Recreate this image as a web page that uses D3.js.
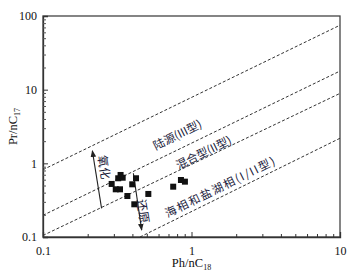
<!DOCTYPE html>
<html lang="zh">
<head>
<meta charset="UTF-8">
<title>Pr/nC17 - Ph/nC18</title>
<style>
body{margin:0;background:#fff;}
text{font-family:"Liberation Serif","Times New Roman",serif;}
.cjk{font-family:"Noto Sans CJK SC","Liberation Serif",serif;}
</style>
</head>
<body>
<script src="https://cdn.jsdelivr.net/npm/d3@7/dist/d3.min.js"></script>
<script>
// sample points (Ph/nC18, Pr/nC17)
var phC18=[0.290,0.309,0.330,0.321,0.333,0.344,0.370,0.399,0.423,0.412,0.512,0.753,0.849,0.903];
var prC17=[0.525,0.444,0.444,0.627,0.695,0.638,0.360,0.519,0.627,0.278,0.384,0.482,0.594,0.564];

// dashed boundary lines, end points [x0,y0,x1,y1]
var boundaries=[[0.1,0.82,10,75],[0.1,0.197,10,17.9],[0.1,0.105,10,8.9],[0.45,0.1,10,2.19]];

var zoneNames=["陆源(III型)","混合型(II型)","海相和盐湖相(I/II型)"];
var zoneAt=[[0.80,2.50],[1.20,1.43],[1.56,0.49]];

// arrows [x0,y0,x1,y1] tail -> head
var arrows=[[0.248,0.245,0.215,1.48],[0.406,0.733,0.462,0.124]];
var arrowNames=["氧化","还原"];
var arrowTextAt=[[0.262,0.89],[0.48,0.225]];

var xTicks=[0.1,1,10];
var yTicks=[0.1,1,10,100];

var width=362,height=277;
var padding={top:16,left:43,right:22,bottom:40};
var w=width-padding.left-padding.right;
var h=height-padding.top-padding.bottom;

var svg=d3.select('body').append('svg')
	.attr('width',width).attr('height',height);

var xScale=d3.scaleLog().domain([0.1,10]).range([0,w]);
var yScale=d3.scaleLog().domain([0.1,100]).range([h,0]);

var g=svg.append('g')
	.attr('transform','translate('+padding.left+','+padding.top+')');

svg.append('defs').append('clipPath').attr('id','clip')
	.append('rect').attr('width',w).attr('height',h);
var marker=svg.select('defs').append('marker')
	.attr('id','head').attr('viewBox','0 0 10 10')
	.attr('refX',9).attr('refY',5)
	.attr('markerWidth',7).attr('markerHeight',7)
	.attr('markerUnits','userSpaceOnUse')
	.attr('orient','auto');
marker.append('path').attr('d','M0,1L10,5L0,9Z').attr('fill','#222');

// frame
g.append('rect').attr('width',w).attr('height',h)
	.attr('fill','none').attr('stroke','#444').attr('stroke-width',1.3);

// axes with inward ticks
var minorX=[],minorY=[];
[0.1,1].forEach(function(d){for(var k=2;k<=9;k++)minorX.push(d*k);});
[0.1,1,10].forEach(function(d){for(var k=2;k<=9;k++)minorY.push(d*k);});

var xAxis=d3.axisBottom(xScale).tickValues(xTicks).tickSize(-5).tickPadding(9)
	.tickFormat(function(d){return d;});
var yAxis=d3.axisLeft(yScale).tickValues(yTicks).tickSize(-5).tickPadding(6)
	.tickFormat(function(d){return d;});

var gx=g.append('g').attr('transform','translate(0,'+h+')').call(xAxis);
var gy=g.append('g').call(yAxis);
[gx,gy].forEach(function(a){
	a.select('.domain').attr('stroke','#333').attr('stroke-width',1.3);
	a.selectAll('.tick line').attr('stroke','#333');
	a.selectAll('.tick text').attr('font-size','12px').attr('fill','#111')
		.style('font-family','"Liberation Serif",serif');
});
gx.selectAll('.tick line').attr('y2',-5);
g.append('g').attr('transform','translate(0,'+h+')')
	.call(d3.axisBottom(xScale).tickValues(minorX).tickSize(-3).tickFormat(''))
	.call(function(s){s.select('.domain').remove();s.selectAll('line').attr('stroke','#333');});
g.append('g')
	.call(d3.axisLeft(yScale).tickValues(minorY).tickSize(-3).tickFormat(''))
	.call(function(s){s.select('.domain').remove();s.selectAll('line').attr('stroke','#555');});

// boundary lines
g.append('g').attr('clip-path','url(#clip)').selectAll('line')
	.data(boundaries).enter().append('line')
	.attr('x1',function(d){return xScale(d[0]);})
	.attr('y1',function(d){return yScale(d[1]);})
	.attr('x2',function(d){return xScale(d[2]);})
	.attr('y2',function(d){return yScale(d[3]);})
	.attr('stroke','#333').attr('stroke-width',1)
	.attr('stroke-dasharray','3,2');

// zone labels along the lines
var ang=Math.atan2(yScale(10)-yScale(1),xScale(10)-xScale(1))*180/Math.PI;
g.selectAll('.zone').data(zoneNames).enter().append('text')
	.attr('class','zone cjk')
	.attr('font-size','11.5px').attr('fill','#1a1a3a')
	.attr('text-anchor','middle').attr('dominant-baseline','central')
	.attr('letter-spacing',function(d,i){return i==2?'1.5px':'0px';})
	.attr('transform',function(d,i){
		return 'translate('+xScale(zoneAt[i][0])+','+yScale(zoneAt[i][1])+') rotate('+ang+')';
	})
	.text(function(d){return d;});

// arrows
g.selectAll('.arrow').data(arrows).enter().append('line')
	.attr('class','arrow')
	.attr('x1',function(d){return xScale(d[0]);})
	.attr('y1',function(d){return yScale(d[1]);})
	.attr('x2',function(d){return xScale(d[2]);})
	.attr('y2',function(d){return yScale(d[3]);})
	.attr('stroke','#222').attr('stroke-width',1.1)
	.attr('marker-end','url(#head)');

g.selectAll('.atext').data(arrowNames).enter().append('text')
	.attr('class','atext cjk')
	.attr('font-size','12px').attr('fill','#1a1a3a')
	.attr('text-anchor','middle').attr('dominant-baseline','central')
	.attr('transform',function(d,i){
		return 'translate('+xScale(arrowTextAt[i][0])+','+yScale(arrowTextAt[i][1])+') rotate(81)';
	})
	.text(function(d){return d;});

// points
g.selectAll('.pt').data(phC18).enter().append('rect')
	.attr('class','pt')
	.attr('x',function(d){return xScale(d)-3;})
	.attr('y',function(d,i){return yScale(prC17[i])-3;})
	.attr('width',6).attr('height',6)
	.attr('fill','#111');

// axis titles
var xt=svg.append('text')
	.attr('x',padding.left+w/2).attr('y',height-10)
	.attr('text-anchor','middle').attr('font-size','12.5px').attr('fill','#111');
xt.append('tspan').text('Ph/nC');
xt.append('tspan').attr('font-size','8px').attr('dy',3).text('18');

var yt=svg.append('text')
	.attr('transform','translate(17,'+(padding.top+h/2)+') rotate(-90)')
	.attr('text-anchor','middle').attr('font-size','12.5px').attr('fill','#111');
yt.append('tspan').text('Pr/nC');
yt.append('tspan').attr('font-size','8px').attr('dy',3).text('17');
</script>
</body>
</html>
